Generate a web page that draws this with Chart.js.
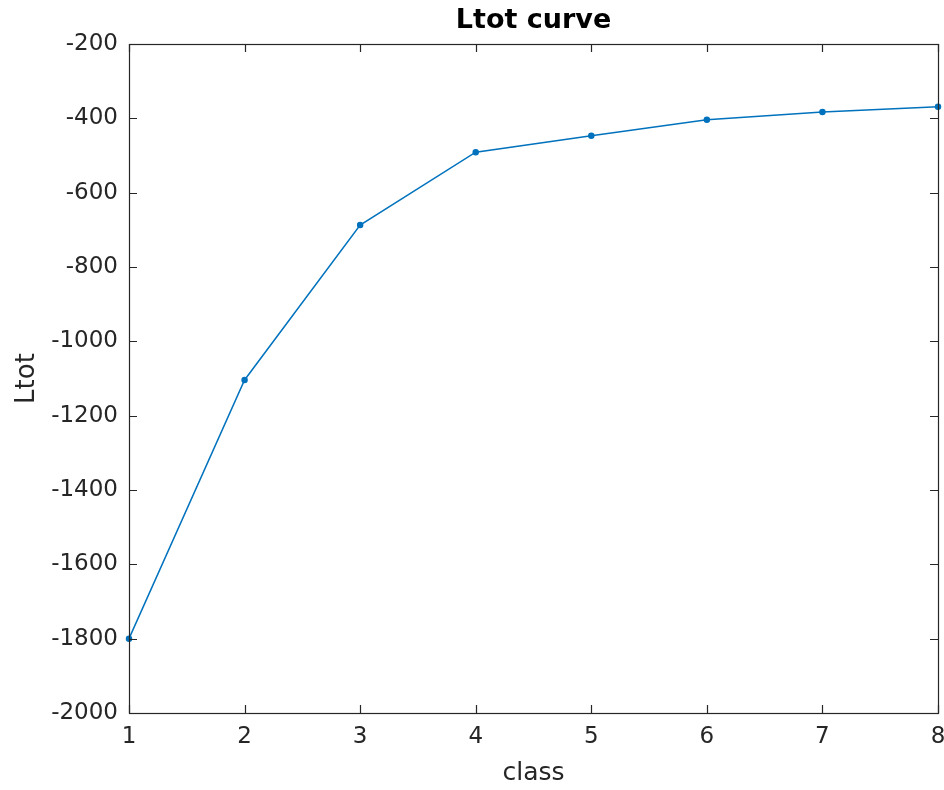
<!DOCTYPE html>
<html>
<head>
<meta charset="utf-8">
<script src="https://cdn.jsdelivr.net/npm/chart.js@4/dist/chart.umd.min.js"></script>
<style>
  html, body { margin: 0; padding: 0; background: #fff; }
  #wrap { width: 944px; height: 790px; }
</style>
</head>
<body>
<div id="wrap"><canvas id="ltotChart" width="944" height="790"></canvas></div>
<script>
// values
const classes = [1, 2, 3, 4, 5, 6, 7, 8];
const ltot = [-1800, -1104, -687, -491, -447, -404, -383, -369];
const yTicks = [-2000, -1800, -1600, -1400, -1200, -1000, -800, -600, -400, -200];

const axisColor = '#262626';
const fontFamily = '"DejaVu Sans", sans-serif';

// MATLAB style box with inward ticks on all four sides
const boxTicks = {
  id: 'boxTicks',
  afterDraw(chart) {
    const { ctx, chartArea: a, scales } = chart;
    const len = 8;
    ctx.save();
    ctx.strokeStyle = axisColor;
    ctx.lineWidth = 1.2;
    ctx.beginPath();
    scales.x.ticks.forEach(t => {
      const px = Math.round(scales.x.getPixelForValue(t.value)) + 0.5;
      ctx.moveTo(px, a.bottom); ctx.lineTo(px, a.bottom - len);
      ctx.moveTo(px, a.top); ctx.lineTo(px, a.top + len);
    });
    scales.y.ticks.forEach(t => {
      const py = Math.round(scales.y.getPixelForValue(t.value)) + 0.5;
      ctx.moveTo(a.left, py); ctx.lineTo(a.left + len, py);
      ctx.moveTo(a.right, py); ctx.lineTo(a.right - len, py);
    });
    ctx.stroke();
    ctx.strokeRect(Math.round(a.left) + 0.5, Math.round(a.top) + 0.5,
      Math.round(a.right - a.left), Math.round(a.bottom - a.top));
    ctx.restore();
  }
};

new Chart(document.getElementById('ltotChart').getContext('2d'), {
  type: 'line',
  data: {
    datasets: [{
      label: 'Ltot',
      data: classes.map((c, i) => ({ x: c, y: ltot[i] })),
      borderColor: '#0072BD',
      backgroundColor: '#0072BD',
      borderWidth: 1.5,
      pointRadius: 2.5,
      pointHoverRadius: 2.5,
      tension: 0,
      clip: false
    }]
  },
  options: {
    responsive: false,
    animation: false,
    layout: { padding: { left: 0, right: 6, top: 0, bottom: 0 } },
    plugins: {
      legend: { display: false },
      tooltip: { enabled: false },
      title: {
        display: true,
        fullSize: false,
        text: 'Ltot curve',
        color: '#000',
        font: { family: fontFamily, size: 27, weight: 'bold' },
        padding: { top: 4.8, bottom: 6.8 }
      }
    },
    scales: {
      x: {
        type: 'linear',
        min: 1,
        max: 8,
        afterBuildTicks: s => { s.ticks = classes.map(v => ({ value: v })); },
        afterFit: s => { s.height = 77; s.paddingLeft = 0; s.paddingRight = 0; },
        grid: { display: false, drawTicks: false },
        border: { display: false },
        ticks: {
          color: axisColor,
          padding: 10,
          callback: v => String(v),
          font: { family: fontFamily, size: 23 }
        },
        title: {
          display: true,
          text: 'class',
          color: axisColor,
          padding: { top: 0, bottom: 2 },
          font: { family: fontFamily, size: 25 }
        }
      },
      y: {
        type: 'linear',
        min: -2000,
        max: -200,
        afterBuildTicks: s => { s.ticks = yTicks.map(v => ({ value: v })); },
        afterFit: s => { s.width = 129; s.paddingTop = 0; s.paddingBottom = 0; },
        grid: { display: false, drawTicks: false },
        border: { display: false },
        ticks: {
          color: axisColor,
          padding: 11,
          callback: v => String(v),
          font: { family: fontFamily, size: 23 }
        },
        title: {
          display: true,
          text: 'Ltot',
          color: axisColor,
          padding: { top: 12, bottom: 0 },
          font: { family: fontFamily, size: 26 }
        }
      }
    }
  },
  plugins: [boxTicks]
});
</script>
</body>
</html>
